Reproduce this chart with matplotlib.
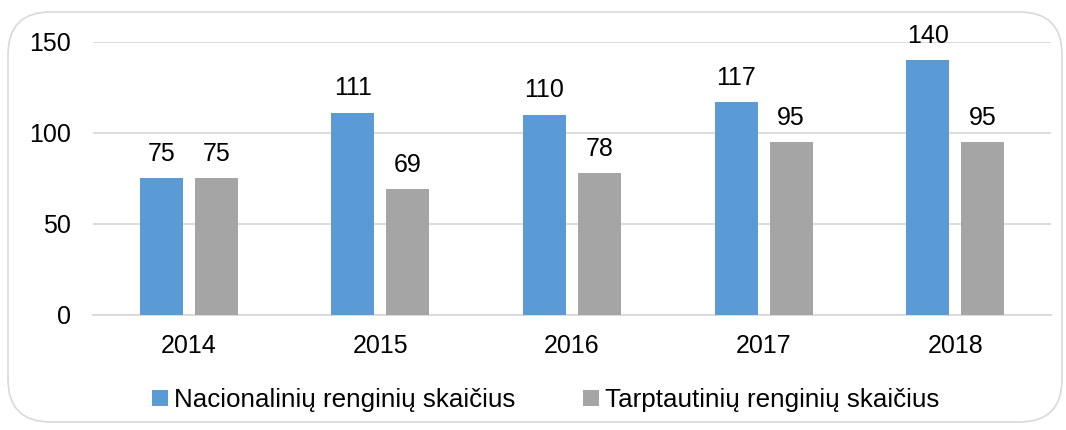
import matplotlib
matplotlib.use("Agg")
import matplotlib.pyplot as plt
import numpy as np
from matplotlib.patches import FancyBboxPatch

plt.rcParams['font.family'] = ['Liberation Sans', 'DejaVu Sans']

years = ["2014", "2015", "2016", "2017", "2018"]
nacionaliniai = [75, 111, 110, 117, 140]
tarptautiniai = [75, 69, 78, 95, 95]
labels = ["Nacionalinių renginių skaičius", "Tarptautinių renginių skaičius"]
colors = ["#5b9bd5", "#a5a5a5"]

W, H = 1066, 430
fig = plt.figure(figsize=(W/100, H/100), dpi=100)
ax = fig.add_axes([93/W, 1-315/H, (1051-93)/W, (315-42)/H])

# rounded border
border = FancyBboxPatch((8/W, 8/H), (1062-8)/W, (418-8)/H,
                        boxstyle="round,pad=0,rounding_size=0.04",
                        transform=fig.transFigure, fill=False,
                        edgecolor="#d9d9d9", linewidth=1.2, mutation_aspect=W/H)
fig.patches.append(border)

FS = 18
x = np.arange(len(years))
bw = 0.224
off = 0.1435
b1 = ax.bar(x - off, nacionaliniai, bw, color=colors[0], label=labels[0], zorder=3)
b2 = ax.bar(x + off, tarptautiniai, bw, color=colors[1], label=labels[1], zorder=3)
for bars in (b1, b2):
    for r in bars:
        ax.annotate(f"{int(r.get_height())}", (r.get_x()+r.get_width()/2, r.get_height()),
                    xytext=(0, 9), textcoords="offset points", ha="center", va="bottom",
                    fontsize=FS, color="#000000")

ax.set_xlim(-0.5, len(years)-0.5)
ax.set_ylim(0, 150)
ax.set_yticks([0, 50, 100, 150])
ax.set_xticks(x)
ax.set_xticklabels(years)
ax.tick_params(axis='both', length=0, labelsize=FS, colors="#000000")
ax.tick_params(axis='y', pad=16)
ax.tick_params(axis='x', pad=14)
ax.yaxis.grid(True, color="#d9d9d9", linewidth=1.3, zorder=0)
for s in ["top", "right", "left"]:
    ax.spines[s].set_visible(False)
ax.spines["bottom"].set_color("#d9d9d9")
ax.spines["bottom"].set_linewidth(1.3)
ax.set_facecolor("none")

fig.legend(handles=[b1, b2], labels=labels, loc="center", bbox_to_anchor=(546/W, 1-400/H),
           ncol=2, frameon=False, fontsize=18.7, handlelength=0.6, handleheight=0.6,
           handletextpad=0.25, columnspacing=2.6)

fig.savefig("out.png", dpi=100)
